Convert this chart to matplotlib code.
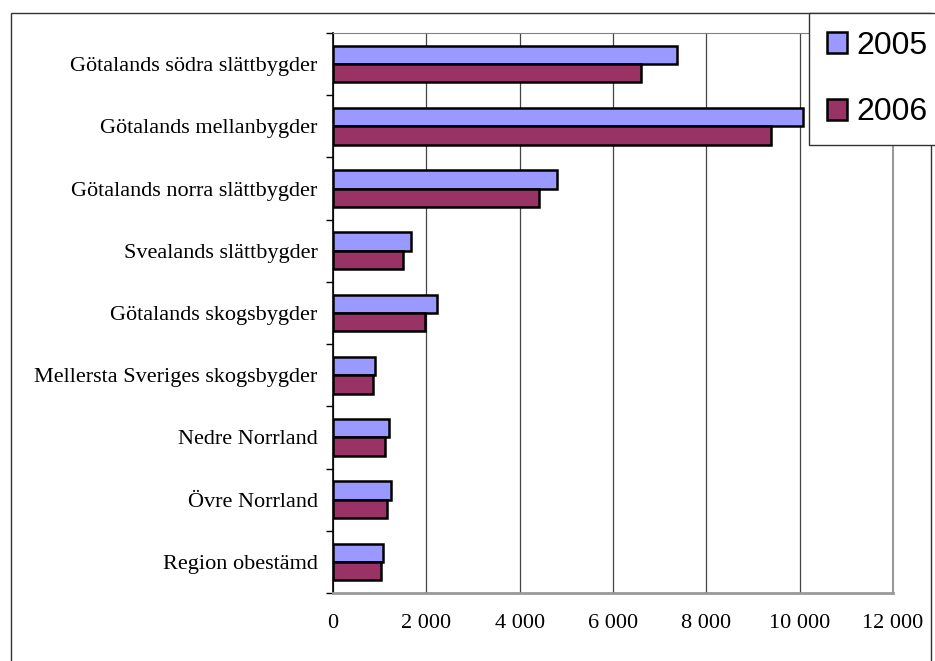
import numpy as np
import matplotlib
matplotlib.use("Agg")
import matplotlib.pyplot as plt
from matplotlib.patches import Rectangle
from matplotlib.ticker import FuncFormatter

# data
regions = [
    "Götalands södra slättbygder",
    "Götalands mellanbygder",
    "Götalands norra slättbygder",
    "Svealands slättbygder",
    "Götalands skogsbygder",
    "Mellersta Sveriges skogsbygder",
    "Nedre Norrland",
    "Övre Norrland",
    "Region obestämd",
]
values_2005 = [7370, 10070, 4800, 1670, 2230, 890, 1200, 1250, 1080]
values_2006 = [6600, 9390, 4410, 1490, 1980, 850, 1120, 1160, 1030]
series_names = ["2005", "2006"]
xticks = [0, 2000, 4000, 6000, 8000, 10000, 12000]

W, H = 935, 661
fig = plt.figure(figsize=(W / 100, H / 100), dpi=100)
ax = fig.add_axes([333 / W, 1 - 593 / H, 560 / W, 560 / H])

n = len(regions)
y = np.arange(n)
h = 0.295
ax.barh(y - h / 2, values_2005, height=h, color="#9999FF", edgecolor="black",
        linewidth=1.8, label=series_names[0], zorder=3)
ax.barh(y + h / 2, values_2006, height=h, color="#993366", edgecolor="black",
        linewidth=1.8, label=series_names[1], zorder=3)

ax.set_ylim(n - 0.5, -0.5)
ax.set_xlim(0, 12000)

# category labels, tick marks between categories
ax.set_yticks(y)
ax.set_yticklabels(regions, family="Liberation Serif", fontsize=16)
ax.tick_params(axis="y", which="major", length=0, pad=11)
ax.set_yticks(np.arange(-0.5, n, 1), minor=True)
ax.tick_params(axis="y", which="minor", length=5, width=1, color="black", direction="out")

ax.set_xticks(xticks)
ax.xaxis.set_major_formatter(FuncFormatter(lambda v, p: f"{int(v):,}".replace(",", " ")))
for lab in ax.get_xticklabels():
    lab.set_family("Liberation Serif")
    lab.set_fontsize(16)
ax.tick_params(axis="x", length=0, pad=15)

ax.grid(axis="x", color="#444444", linewidth=0.9, zorder=1)
ax.set_axisbelow(True)

ax.spines["left"].set_color("black")
ax.spines["left"].set_linewidth(1.2)
ax.spines["bottom"].set_color("#999999")
ax.spines["bottom"].set_linewidth(2)
ax.spines["top"].set_color("#808080")
ax.spines["right"].set_color("#999999")
ax.spines["right"].set_linewidth(1.5)

# outer chart frame
fig.add_artist(Rectangle((11 / W, -0.1), (931 - 11) / W, 1.1 - 13 / H,
                         transform=fig.transFigure, fill=False,
                         edgecolor="#333333", linewidth=1, zorder=0))

leg = fig.legend(loc="upper left", bbox_to_anchor=(809 / W, 1 - 13 / H),
                 bbox_transform=fig.transFigure, borderaxespad=0,
                 prop={"family": "Liberation Sans", "size": 23},
                 handlelength=0.64, handleheight=0.64, handletextpad=0.28,
                 borderpad=0.55, labelspacing=1.15, fancybox=False,
                 frameon=True, edgecolor="#333333", framealpha=1)
leg.get_frame().set_linewidth(1)

fig.savefig("out.png", dpi=100)
